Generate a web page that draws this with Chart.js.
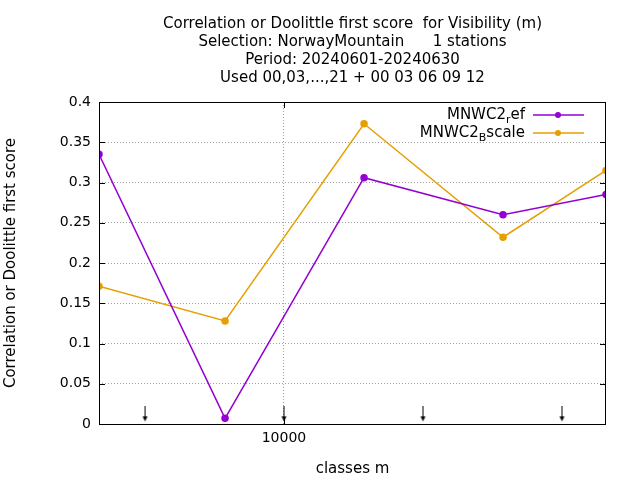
<!DOCTYPE html>
<html>
<head>
<meta charset="utf-8">
<script src="https://cdn.jsdelivr.net/npm/chart.js@4/dist/chart.umd.min.js"></script>
<style>
  body { margin: 0; background: #fff; }
  #wrap { width: 640px; height: 480px; }
</style>
</head>
<body>
<div id="wrap"><canvas id="chart" width="640" height="480"></canvas></div>
<script>
// class positions on the x axis (decades relative to 10000), and values
var classPos = [-1.331, -0.424, 0.576, 1.576, 2.317];
var refScores = [0.335, 0.007, 0.306, 0.260, 0.285];
var bscaleScores = [0.171, 0.128, 0.373, 0.232, 0.315];
var arrowPos = [-1.741, -1, 0, 1, 2];
var xTickPos = [0];
var xTickLabels = ['10000'];
var titleLines = [
  'Correlation or Doolittle first score  for Visibility (m)',
  'Selection: NorwayMountain      1 stations',
  'Period: 20240601-20240630',
  'Used 00,03,...,21 + 00 03 06 09 12'
];
var FONT = '"DejaVu Sans", sans-serif';

function pts(ys) {
  return classPos.map(function (x, i) { return { x: x, y: ys[i] }; });
}

// little downward arrow glyph for the class markers
var arrow = document.createElement('canvas');
arrow.width = 7; arrow.height = 16;
(function () {
  var c = arrow.getContext('2d');
  c.strokeStyle = '#000'; c.fillStyle = '#000'; c.lineWidth = 1;
  c.beginPath(); c.moveTo(3.5, 0); c.lineTo(3.5, 11); c.stroke();
  c.beginPath(); c.moveTo(1, 10); c.lineTo(6, 10); c.lineTo(3.5, 15); c.closePath(); c.fill();
})();

var frame = {
  id: 'frame',
  afterDraw: function (chart) {
    var ctx = chart.ctx, a = chart.chartArea;
    var ys = chart.scales.y, xs = chart.scales.x;
    ctx.save();
    ctx.strokeStyle = '#000'; ctx.lineWidth = 1;
    ctx.strokeRect(a.left + 0.5, a.top + 0.5, a.right - a.left - 1, a.bottom - a.top);
    ctx.beginPath();
    for (var v = 0; v <= 0.4001; v += 0.05) {
      var py = Math.round(ys.getPixelForValue(v)) + 0.5;
      ctx.moveTo(a.left, py); ctx.lineTo(a.left + 6, py);
      ctx.moveTo(a.right, py); ctx.lineTo(a.right - 6, py);
    }
    xTickPos.forEach(function (t) {
      var px = Math.round(xs.getPixelForValue(t)) + 0.5;
      ctx.moveTo(px, a.bottom); ctx.lineTo(px, a.bottom - 6);
      ctx.moveTo(px, a.top); ctx.lineTo(px, a.top + 6);
    });
    ctx.stroke();
    // title
    ctx.fillStyle = '#000';
    ctx.font = '15px ' + FONT;
    ctx.textAlign = 'center'; ctx.textBaseline = 'middle';
    var cx = (a.left + a.right) / 2;
    titleLines.forEach(function (l, i) { ctx.fillText(l, cx, 24 + i * 18); });
    // legend with subscripts
    var items = [
      { pre: 'MNWC2', sub: 'r', post: 'ef', color: '#9400d3' },
      { pre: 'MNWC2', sub: 'B', post: 'scale', color: '#e69f00' }
    ];
    items.forEach(function (it, i) {
      var y = 115 + i * 18;
      var xEnd = 525;
      ctx.textAlign = 'left';
      ctx.font = '15px ' + FONT;
      var w1 = ctx.measureText(it.pre).width, w3 = ctx.measureText(it.post).width;
      ctx.font = '11px ' + FONT;
      var w2 = ctx.measureText(it.sub).width;
      var x0 = xEnd - w1 - w2 - w3;
      ctx.font = '15px ' + FONT; ctx.fillText(it.pre, x0, y);
      ctx.font = '11px ' + FONT; ctx.fillText(it.sub, x0 + w1, y + 5);
      ctx.font = '15px ' + FONT; ctx.fillText(it.post, x0 + w1 + w2, y);
      ctx.strokeStyle = it.color; ctx.fillStyle = it.color; ctx.lineWidth = 1.5;
      ctx.beginPath(); ctx.moveTo(533, y); ctx.lineTo(584, y); ctx.stroke();
      ctx.beginPath(); ctx.arc(558, y, 3, 0, Math.PI * 2); ctx.fill();
      ctx.fillStyle = '#000';
    });
    ctx.restore();
  }
};

new Chart(document.getElementById('chart'), {
  type: 'scatter',
  data: {
    datasets: [
      { label: 'MNWC2_ref', data: pts(refScores), showLine: true, borderColor: '#9400d3',
        backgroundColor: '#9400d3', borderWidth: 1.5, pointRadius: 3, pointHoverRadius: 3 },
      { label: 'MNWC2_Bscale', data: pts(bscaleScores), showLine: true, borderColor: '#e69f00',
        backgroundColor: '#e69f00', borderWidth: 1.5, pointRadius: 3, pointHoverRadius: 3 },
      { label: 'classes', data: arrowPos.map(function (x) { return { x: x, y: 0.012 }; }),
        pointStyle: arrow, clip: false }
    ]
  },
  options: {
    responsive: false, animation: false,
    layout: { padding: { top: 102, right: 34, left: 0, bottom: 0 } },
    plugins: { legend: { display: false }, tooltip: { enabled: false } },
    scales: {
      x: {
        type: 'linear', min: classPos[0], max: classPos[classPos.length - 1],
        afterBuildTicks: function (s) { s.ticks = xTickPos.map(function (v) { return { value: v }; }); },
        afterFit: function (s) { s.height = 56; },
        ticks: { color: '#000', font: { family: FONT, size: 14 }, padding: 6,
          callback: function (v) { var i = xTickPos.indexOf(v); return i >= 0 ? xTickLabels[i] : ''; } },
        grid: { color: '#a0a0a0', drawTicks: false },
        border: { display: false, dash: [1, 2] },
        title: { display: true, text: 'classes m', color: '#000', font: { family: FONT, size: 15 }, padding: 2 }
      },
      y: {
        min: 0, max: 0.4,
        afterFit: function (s) { s.width = 99; },
        ticks: { stepSize: 0.05, color: '#000', font: { family: FONT, size: 14 }, padding: 8,
          callback: function (v) { return String(Math.round(v * 100) / 100); } },
        grid: { color: '#a0a0a0', drawTicks: false },
        border: { display: false, dash: [1, 2] },
        title: { display: true, text: 'Correlation or Doolittle first score', color: '#000',
          font: { family: FONT, size: 15 }, padding: 2 }
      }
    }
  },
  plugins: [frame]
});
</script>
</body>
</html>
